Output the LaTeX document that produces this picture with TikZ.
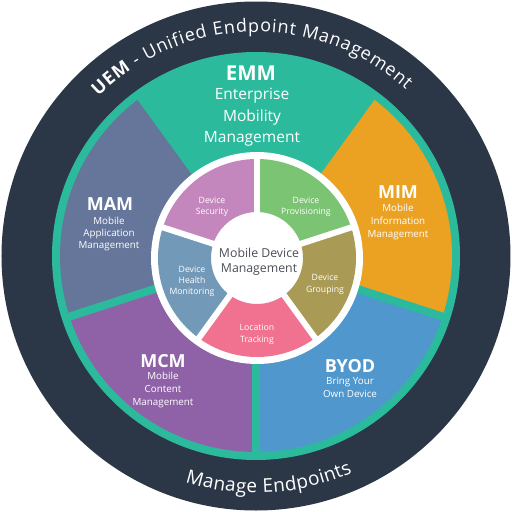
\documentclass[tikz,border=0pt]{standalone}
\usepackage{fontspec}
\setmainfont{Open Sans}
\usetikzlibrary{decorations.text}
\definecolor{darkc}{HTML}{2B3747}
\definecolor{tealc}{HTML}{2BBB9C}
\definecolor{mamc}{HTML}{65769A}
\definecolor{mimc}{HTML}{EBA222}
\definecolor{mcmc}{HTML}{8F62A8}
\definecolor{byodc}{HTML}{5097CD}
\definecolor{secc}{HTML}{C487BD}
\definecolor{provc}{HTML}{7BC474}
\definecolor{grpc}{HTML}{A99A55}
\definecolor{locc}{HTML}{F07290}
\definecolor{hltc}{HTML}{7399B8}
\definecolor{centc}{HTML}{4A4F57}
\tikzset{
  lbl/.style={text=white, anchor=base, inner sep=0pt},
  head/.style={lbl, font=\fontsize{18}{18}\selectfont\bfseries},
  emmhead/.style={lbl, font=\fontsize{20.5}{20}\selectfont\bfseries},
  emmsub/.style={lbl, font=\fontsize{15.5}{18}\selectfont},
  sub/.style={lbl, font=\fontsize{9.8}{12}\selectfont},
  wheel/.style={lbl, font=\fontsize{8.7}{11}\selectfont},
  centre/.style={lbl, text=centc, font=\fontsize{12.3}{15}\selectfont},
  tealgap/.style={draw=tealc, line width=8pt},
  whitegap/.style={draw=white, line width=6pt}
}
\begin{document}
\begin{tikzpicture}[x=1pt,y=1pt]
\useasboundingbox (-256,-256) rectangle (256,256);
% rings
\fill[darkc] (0,0) circle[radius=254.5pt];
\fill[tealc] (0,0) circle[radius=204pt];
% outer sectors
\fill[mamc] (0,0) -- (126:196pt) arc[start angle=126, end angle=198, radius=196pt] -- cycle;
\fill[mcmc] (0,0) -- (198:196pt) arc[start angle=198, end angle=270, radius=196pt] -- cycle;
\fill[byodc] (0,0) -- (270:196pt) arc[start angle=270, end angle=342, radius=196pt] -- cycle;
\fill[mimc] (0,0) -- (-18:196pt) arc[start angle=-18, end angle=54, radius=196pt] -- cycle;
\foreach \a in {54,126,198,270,342} \draw[tealgap] (0,0) -- (\a:200pt);
% inner wheel
\begin{scope}[shift={(1,-2)}]
\fill[white] (0,0) circle[radius=106pt];
\fill[secc] (90:99pt) arc[start angle=90, end angle=162, radius=99pt] -- (162:46pt) arc[start angle=162, end angle=90, radius=46pt] -- cycle;
\fill[hltc] (162:99pt) arc[start angle=162, end angle=234, radius=99pt] -- (234:46pt) arc[start angle=234, end angle=162, radius=46pt] -- cycle;
\fill[locc] (234:99pt) arc[start angle=234, end angle=306, radius=99pt] -- (306:46pt) arc[start angle=306, end angle=234, radius=46pt] -- cycle;
\fill[grpc] (-54:99pt) arc[start angle=-54, end angle=18, radius=99pt] -- (18:46pt) arc[start angle=18, end angle=-54, radius=46pt] -- cycle;
\fill[provc] (18:99pt) arc[start angle=18, end angle=90, radius=99pt] -- (90:46pt) arc[start angle=90, end angle=18, radius=46pt] -- cycle;
\foreach \a in {18,90,162,234,306} \draw[whitegap] (\a:40pt) -- (\a:101pt);
\end{scope}
% curved texts
\path[decorate, decoration={text along path, text align=fit to path,
  text={|\fontsize{18}{18}\selectfont\bfseries\color{white}|UEM|\fontsize{18}{18}\selectfont\color{white}| - Unified Endpoint Management}}]
  (134.7:224pt) arc[start angle=134.7, end angle=48, radius=224pt];
\path[decorate, decoration={text along path, text align=fit to path,
  text={|\fontsize{19}{19}\selectfont\color{white}|Manage Endpoints}}]
  (252.6:237pt) arc[start angle=252.6, end angle=294, radius=237pt];
% EMM
\node[emmhead] (emm) at (-5,176) {EMM};
\node[emmsub] (emm1) at (-4,157) {Enterprise};
\node[emmsub] (emm2) at (-4,135) {Mobility};
\node[emmsub] (emm3) at (-4,114) {Management};
% MAM
\node[head] (mam) at (-146,46) {MAM};
\node[sub] (mam1) at (-147,32) {Mobile};
\node[sub] (mam2) at (-147,20) {Application};
\node[sub] (mam3) at (-147,8) {Management};
% MIM
\node[head] (mim) at (142,58) {MIM};
\node[sub] (mim1) at (142,45) {Mobile};
\node[sub] (mim2) at (142,32) {Information};
\node[sub] (mim3) at (142,19) {Management};
% MCM
\node[head] (mcm) at (-93,-111) {MCM};
\node[sub] (mcm1) at (-93,-123) {Mobile};
\node[sub] (mcm2) at (-93,-136) {Content};
\node[sub] (mcm3) at (-93,-149) {Management};
% BYOD
\node[head] (byod) at (94,-116) {BYOD};
\node[sub] (byod1) at (94,-128) {Bring Your};
\node[sub] (byod2) at (94,-141) {Own Device};
% wheel labels
\node[wheel] (sec1) at (-44,53) {Device};
\node[wheel] (sec2) at (-44,42) {Security};
\node[wheel] (prov1) at (50,53) {Device};
\node[wheel] (prov2) at (50,42) {Provisioning};
\node[wheel] (hlt1) at (-64,-16) {Device};
\node[wheel] (hlt2) at (-64,-27) {Health};
\node[wheel] (hlt3) at (-64,-38) {Monitoring};
\node[wheel] (grp1) at (69,-24) {Device};
\node[wheel] (grp2) at (69,-36) {Grouping};
\node[wheel] (loc1) at (1,-74) {Location};
\node[wheel] (loc2) at (1,-86) {Tracking};
\node[centre] (mdm1) at (3,-1) {Mobile Device};
\node[centre] (mdm2) at (3,-16) {Management};
\end{tikzpicture}
\end{document}
